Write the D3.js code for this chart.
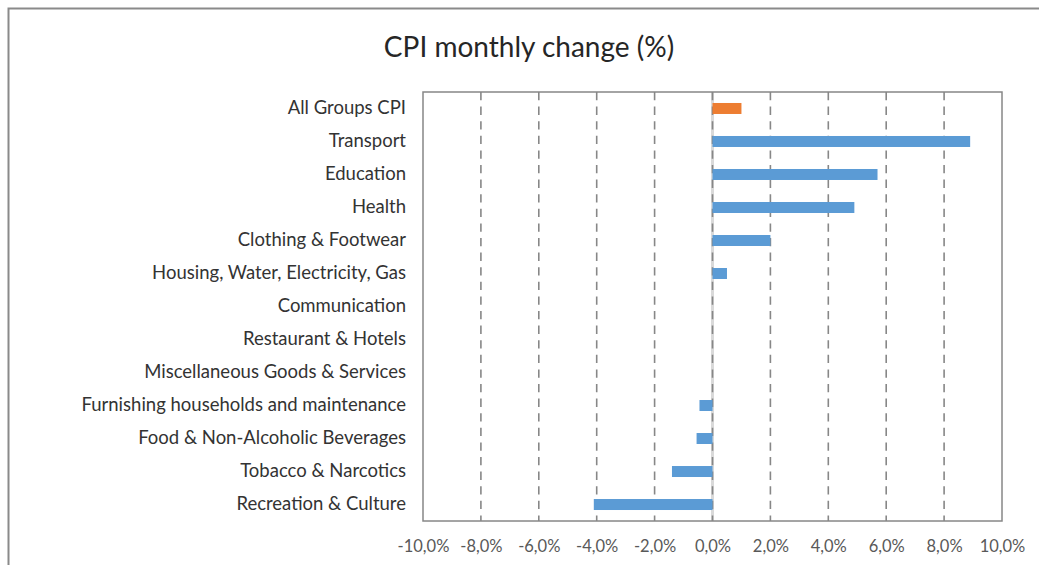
<!DOCTYPE html>
<html>
<head>
<meta charset="utf-8">
<script src="https://cdn.jsdelivr.net/npm/d3@7"></script>
<style>
  html, body { margin: 0; padding: 0; background: #fff; }
  svg { display: block; }
  text { font-family: Lato, "Open Sans", sans-serif; }
</style>
</head>
<body>
<svg id="chart" width="1039" height="565"></svg>
<script>
const categories = [
  "All Groups CPI",
  "Transport",
  "Education",
  "Health",
  "Clothing & Footwear",
  "Housing, Water, Electricity, Gas",
  "Communication",
  "Restaurant & Hotels",
  "Miscellaneous Goods & Services",
  "Furnishing households and maintenance",
  "Food & Non-Alcoholic Beverages",
  "Tobacco & Narcotics",
  "Recreation & Culture"
];
const values = [1.0, 8.9, 5.7, 4.9, 2.0, 0.5, 0, 0, 0, -0.45, -0.55, -1.4, -4.1];
const highlight = ["All Groups CPI"];
const tickValues = [-10, -8, -6, -4, -2, 0, 2, 4, 6, 8, 10];
const title = "CPI monthly change (%)";

const svg = d3.select("#chart");
const W = 1039, H = 565;
const plot = { left: 423, right: 1002, top: 92, bottom: 521 };

// outer frame (left and top visible)
svg.append("path")
  .attr("d", `M8.5,${H} L8.5,8.5 L${W},8.5`)
  .attr("fill", "none").attr("stroke", "#8a8a8a").attr("stroke-width", 2);

svg.append("text")
  .attr("x", 529).attr("y", 57)
  .attr("text-anchor", "middle")
  .attr("font-size", 28)
  .attr("fill", "#262626")
  .text(title);

const x = d3.scaleLinear().domain([-10, 10]).range([plot.left, plot.right]);
const y = d3.scaleBand().domain(categories).range([plot.top, plot.bottom]).paddingInner(0.667).paddingOuter(0.333);

const locale = d3.formatLocale({ decimal: ",", thousands: ".", grouping: [3], currency: ["", ""], minus: "-" });
const fmt = d => locale.format(".1f")(d) + "%";

// zero axis line (light)
svg.append("line")
  .attr("x1", x(0)).attr("x2", x(0))
  .attr("y1", plot.top).attr("y2", plot.bottom)
  .attr("stroke", "#d9d9d9").attr("stroke-width", 3);

// gridlines
svg.append("g").selectAll("line")
  .data(tickValues.filter(v => v > -10 && v < 10))
  .join("line")
  .attr("x1", d => x(d)).attr("x2", d => x(d))
  .attr("y1", plot.top).attr("y2", plot.bottom)
  .attr("stroke", "#878787").attr("stroke-width", 1.6)
  .attr("stroke-dasharray", "8.3,6.3");

// bars
svg.append("g").selectAll("rect")
  .data(categories.map((c, i) => ({ c, v: values[i] })))
  .join("rect")
  .attr("x", d => x(Math.min(0, d.v)))
  .attr("width", d => Math.abs(x(d.v) - x(0)))
  .attr("y", d => y(d.c))
  .attr("height", y.bandwidth())
  .attr("fill", d => highlight.includes(d.c) ? "#ED7D31" : "#5B9BD5");

// plot border
svg.append("rect")
  .attr("x", plot.left).attr("y", plot.top)
  .attr("width", plot.right - plot.left).attr("height", plot.bottom - plot.top)
  .attr("fill", "none").attr("stroke", "#878787").attr("stroke-width", 1.5);

// category labels
const yAxis = svg.append("g")
  .attr("transform", `translate(406,0)`)
  .call(d3.axisLeft(y).tickSize(0).tickPadding(0));
yAxis.select(".domain").remove();
yAxis.selectAll("text")
  .attr("font-size", 18.5)
  .attr("font-family", "Lato, sans-serif")
  .attr("fill", "#333333");

// x tick labels
const xAxis = svg.append("g")
  .attr("transform", `translate(0,${plot.bottom})`)
  .call(d3.axisBottom(x).tickValues(tickValues).tickFormat(fmt).tickSize(0).tickPadding(19));
xAxis.select(".domain").remove();
xAxis.selectAll("text")
  .attr("font-size", 16.5)
  .attr("font-family", "Lato, sans-serif")
  .attr("fill", "#595959");
</script>
</body>
</html>
